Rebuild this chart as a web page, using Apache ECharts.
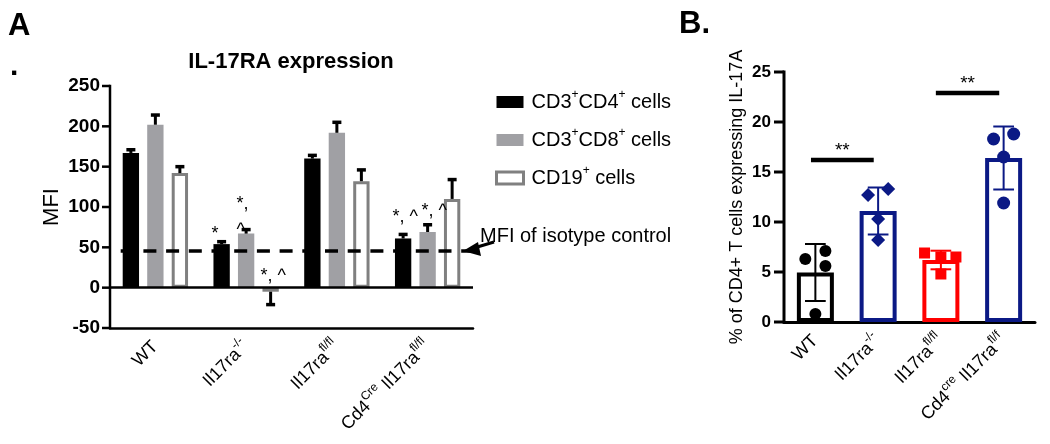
<!DOCTYPE html>
<html>
<head>
<meta charset="utf-8">
<script src="https://cdn.jsdelivr.net/npm/echarts@6/dist/echarts.min.js"></script>
<style>
html, body { margin: 0; padding: 0; background: #fff; }
#chart { width: 1050px; height: 444px; }
</style>
</head>
<body>
<div id="chart"></div>
<script>
var FONT = 'Liberation Sans, Arial, sans-serif';

// ---- panel A data (MFI) ----
var groupsA = ['WT', 'Il17ra-/-', 'Il17ra fl/fl', 'Cd4Cre Il17ra fl/fl'];
var groupLabelsA = ['WT', 'Il17ra{s|-/-}', 'Il17ra{s|fl/fl}', 'Cd4{s|Cre} Il17ra{s|fl/fl}'];
var cd4Mean = [167, 54, 160, 61];
var cd4Err = [171, 57, 164, 66];
var cd8Mean = [202, 67, 192, 69];
var cd8Err = [214, 72, 205, 78];
var cd19Mean = [142, -5, 132, 110];
var cd19Err = [150, -21, 146, 134];
var isotypeMFI = 46;
var ticksA = [-50, 0, 50, 100, 150, 200, 250];
var seriesNamesA = ['CD3+CD4+ cells', 'CD3+CD8+ cells', 'CD19+ cells'];
var legendLabelsA = ['CD3{s|+}CD4{s|+} cells', 'CD3{s|+}CD8{s|+} cells', 'CD19{s|+} cells'];

// significance marks (x in group index units, y in MFI)
var annotX = [0.618, 0.893, 1.159, 2.612, 2.932];
var annotY = [66, 87.5, 14, 87.5, 95];
var annotText = ['*', '*,\n^', '*, ^', '*, ^', '*, ^'];

// ---- panel B data (% IL-17A+) ----
var groupsB = ['WT', 'Il17ra-/-', 'Il17ra fl/fl', 'Cd4cre Il17ra fl/f'];
var groupLabelsB = ['WT', 'Il17ra{s|-/-}', 'Il17ra{s|fl/fl}', 'Cd4{s|cre} Il17ra{s|fl/f}'];
var meanB = [4.95, 11.1, 6.2, 16.4];
var sdB = [2.85, 2.35, 0.93, 3.15];
var pointsB = [
  [6.3, 7.1, 5.6, 0.8],
  [12.7, 13.3, 10.3, 8.2],
  [6.9, 6.5, 6.5, 4.8],
  [18.3, 18.8, 16.5, 11.9]
];
var jitterB = [
  [-0.16, 0.16, 0.16, 0],
  [-0.16, 0.16, 0, 0],
  [-0.26, 0, 0.24, 0],
  [-0.16, 0.16, 0, 0]
];
var colorsB = ['#000000', '#0b1985', '#ff0000', '#0b1985'];
var symbolsB = ['circle', 'diamond', 'rect', 'circle'];
var symbolSizeB = [12, 14, 11, 13];
var ticksB = [0, 5, 10, 15, 20, 25];
// bracket: from x, to x (group index units), height
var sigB = [[-0.07, 0.93, 16.2], [1.92, 2.93, 22.9]];

var BAR_W = 0.18;   // bar width, fraction of band
var BAR_STEP = 0.27; // distance between bar centres, fraction of band

var supRich = { s: { fontSize: 12, lineHeight: 26, verticalAlign: 'top', fontFamily: FONT, color: '#000' } };

// pixel point for a fractional group position on a category axis
function place(api, gxv, yv) {
  var p = api.coord([0, yv]);
  var band = api.size([1, 0])[0];
  return [p[0] + gxv * band, p[1]];
}

function errA(params, api) {
  var cat = api.value(0), slot = api.value(3);
  var band = api.size([1, 0])[0];
  var dx = (slot - 1) * band * BAR_STEP;
  var p0 = api.coord([cat, api.value(1)]);
  var p1 = api.coord([cat, api.value(2)]);
  var x = p0[0] + dx;
  var cap = 9;
  return {
    type: 'group',
    children: [
      { type: 'line', shape: { x1: x, y1: p0[1], x2: x, y2: p1[1] }, style: { stroke: '#000', lineWidth: 3 } },
      { type: 'line', shape: { x1: x - cap / 2, y1: p1[1], x2: x + cap / 2, y2: p1[1] }, style: { stroke: '#000', lineWidth: 3.5 } }
    ]
  };
}

function annotA(params, api) {
  var p = place(api, api.value(0), api.value(1));
  return {
    type: 'text', x: p[0], y: p[1],
    style: { text: annotText[params.dataIndex], fontSize: 18, fontFamily: FONT, fill: '#000',
      lineHeight: 26, align: 'left', verticalAlign: 'middle' }
  };
}

function errB(params, api) {
  var i = api.value(0), m = api.value(1), sd = api.value(2);
  var lo = api.coord([i, m - sd]), hi = api.coord([i, m + sd]);
  var band = api.size([1, 0])[0];
  var cap = band * 0.33, x = lo[0], c = colorsB[i];
  return {
    type: 'group',
    children: [
      { type: 'line', shape: { x1: x, y1: lo[1], x2: x, y2: hi[1] }, style: { stroke: c, lineWidth: 2 } },
      { type: 'line', shape: { x1: x - cap / 2, y1: lo[1], x2: x + cap / 2, y2: lo[1] }, style: { stroke: c, lineWidth: 2 } },
      { type: 'line', shape: { x1: x - cap / 2, y1: hi[1], x2: x + cap / 2, y2: hi[1] }, style: { stroke: c, lineWidth: 2 } }
    ]
  };
}

function pointB(params, api) {
  var i = api.value(0), j = api.value(2);
  var p = place(api, i + jitterB[i][j], api.value(1));
  var x = p[0], y = p[1], r = symbolSizeB[i] / 2, c = colorsB[i];
  if (symbolsB[i] === 'circle') {
    return { type: 'circle', shape: { cx: x, cy: y, r: r }, style: { fill: c } };
  }
  if (symbolsB[i] === 'rect') {
    return { type: 'rect', shape: { x: x - r, y: y - r, width: 2 * r, height: 2 * r }, style: { fill: c } };
  }
  return { type: 'polygon', shape: { points: [[x, y - r], [x + r, y], [x, y + r], [x - r, y]] }, style: { fill: c } };
}

function sigRender(params, api) {
  var p0 = place(api, api.value(0), api.value(2));
  var p1 = place(api, api.value(1), api.value(2));
  return {
    type: 'group',
    children: [
      { type: 'line', shape: { x1: p0[0], y1: p0[1], x2: p1[0], y2: p1[1] }, style: { stroke: '#000', lineWidth: 4.5 } },
      { type: 'text', x: (p0[0] + p1[0]) / 2, y: p0[1] - 9,
        style: { text: '**', fontSize: 19, fontFamily: FONT, fill: '#000', align: 'center', verticalAlign: 'middle' } }
    ]
  };
}

var errAData = [];
[cd4Mean, cd8Mean, cd19Mean].forEach(function (means, s) {
  var errs = [cd4Err, cd8Err, cd19Err][s];
  means.forEach(function (m, i) { errAData.push([i, m, errs[i], s]); });
});

var pointData = [];
pointsB.forEach(function (vals, i) {
  vals.forEach(function (v, j) { pointData.push([i, v, j]); });
});

var axisLabelBold = { color: '#000', fontSize: 19, fontWeight: 'bold', fontFamily: FONT };

var option = {
  animation: false,
  backgroundColor: '#fff',
  textStyle: { fontFamily: FONT },
  title: [
    { text: 'A', left: 8, top: 11, padding: 0, textStyle: { fontSize: 31, fontWeight: 'bold', color: '#000', fontFamily: FONT } },
    { text: '.', left: 10, top: 52, padding: 0, textStyle: { fontSize: 30, fontWeight: 'bold', color: '#000', fontFamily: FONT } },
    { text: 'IL-17RA expression', left: 291, textAlign: 'center', top: 51, padding: 0,
      textStyle: { fontSize: 22, fontWeight: 'bold', color: '#000', fontFamily: FONT } },
    { text: 'B.', left: 679, top: 9, padding: 0, textStyle: { fontSize: 31, fontWeight: 'bold', color: '#000', fontFamily: FONT } }
  ],
  legend: {
    orient: 'vertical', left: 490, top: 84, itemWidth: 27, itemHeight: 12, itemGap: 15,
    icon: 'rect', selectedMode: false,
    data: [
      { name: seriesNamesA[0] },
      { name: seriesNamesA[1] },
      { name: seriesNamesA[2], itemStyle: { color: '#fff', borderColor: '#808080', borderWidth: 3 } }
    ],
    formatter: function (name) { return legendLabelsA[seriesNamesA.indexOf(name)]; },
    textStyle: { fontSize: 20, color: '#000', fontFamily: FONT, padding: [0, 0, 0, 3], rich: supRich }
  },
  grid: [
    { left: 110, right: 577, top: 86, bottom: 116 },
    { left: 784, right: 15, top: 72, bottom: 122 }
  ],
  xAxis: [
    {
      type: 'category', gridIndex: 0, data: groupsA,
      axisLine: { onZero: false, lineStyle: { color: '#000', width: 2.5 } },
      axisTick: { alignWithLabel: true, length: 7, lineStyle: { color: '#000', width: 2.5 } },
      axisLabel: { rotate: 45, margin: 16, color: '#000', fontSize: 18, fontFamily: FONT,
        formatter: function (v, i) { return groupLabelsA[i]; }, rich: supRich },
      splitLine: { show: false }
    },
    {
      type: 'category', gridIndex: 1, data: groupsB,
      axisLine: { onZero: false, lineStyle: { color: '#000', width: 3 } },
      axisTick: { alignWithLabel: true, length: 10, lineStyle: { color: '#000', width: 3 } },
      axisLabel: { rotate: 45, margin: 16, color: '#000', fontSize: 18, fontFamily: FONT,
        formatter: function (v, i) { return groupLabelsB[i]; }, rich: supRich },
      splitLine: { show: false }
    }
  ],
  yAxis: [
    {
      type: 'value', gridIndex: 0, min: ticksA[0], max: ticksA[ticksA.length - 1], interval: 50,
      name: 'MFI', nameLocation: 'middle', nameGap: 47,
      nameTextStyle: { color: '#000', fontSize: 22, fontFamily: FONT },
      axisLine: { show: false },
      axisTick: { show: false },
      axisLabel: Object.assign({ margin: 10 }, axisLabelBold),
      splitLine: { show: false }
    },
    {
      type: 'value', gridIndex: 1, min: ticksB[0], max: ticksB[ticksB.length - 1], interval: 5,
      name: '% of CD4+ T cells expressing IL-17A', nameLocation: 'middle', nameGap: 38,
      nameTextStyle: { color: '#000', fontSize: 18, fontFamily: FONT },
      axisLine: { show: false },
      axisTick: { show: false },
      axisLabel: Object.assign({ margin: 13 }, axisLabelBold, { fontSize: 17 }),
      splitLine: { show: false }
    }
  ],
  series: [
    {
      name: seriesNamesA[0], type: 'bar', xAxisIndex: 0, yAxisIndex: 0,
      data: cd4Mean, barWidth: (BAR_W * 100) + '%', barGap: '50%',
      itemStyle: { color: '#000' }
    },
    {
      name: seriesNamesA[1], type: 'bar', xAxisIndex: 0, yAxisIndex: 0,
      data: cd8Mean, barWidth: (BAR_W * 100) + '%', barGap: '50%',
      itemStyle: { color: '#a0a0a4' }
    },
    {
      name: seriesNamesA[2], type: 'bar', xAxisIndex: 0, yAxisIndex: 0,
      data: cd19Mean, barWidth: (BAR_W * 100) + '%', barGap: '50%',
      itemStyle: { color: '#fff', borderColor: '#808080', borderWidth: 3 },
      markLine: {
        silent: true, symbol: 'none', label: { show: false }, z: 10,
        data: [
          { yAxis: 0, lineStyle: { type: 'solid', color: '#000', width: 2.5 } },
          { yAxis: isotypeMFI, lineStyle: { type: [13, 9.7], dashOffset: 12, color: '#000', width: 3.5 } }
        ]
      }
    },
    {
      type: 'custom', xAxisIndex: 0, yAxisIndex: 0, renderItem: errA, data: errAData, z: 3, clip: false
    },
    {
      type: 'custom', xAxisIndex: 0, yAxisIndex: 0, renderItem: annotA, z: 4, clip: false,
      data: annotX.map(function (x, i) { return [x, annotY[i]]; })
    },
    {
      type: 'bar', xAxisIndex: 1, yAxisIndex: 1, barWidth: 37,
      data: meanB.map(function (m, i) {
        return { value: m, itemStyle: { color: '#fff', borderColor: colorsB[i], borderWidth: 4 } };
      })
    },
    {
      type: 'custom', xAxisIndex: 1, yAxisIndex: 1, renderItem: errB, z: 4, clip: false,
      data: meanB.map(function (m, i) { return [i, m, sdB[i]]; })
    },
    {
      type: 'custom', xAxisIndex: 1, yAxisIndex: 1, renderItem: pointB, z: 5, clip: false, data: pointData
    },
    {
      type: 'custom', xAxisIndex: 1, yAxisIndex: 1, renderItem: sigRender, z: 5, clip: false, data: sigB
    }
  ]
};

var chart = echarts.init(document.getElementById('chart'));
chart.setOption(option);

// y axis lines and outward ticks, placed from the axes' own scales, on top of everything
function yAxisGraphics(gridIdx, ticks, len, width) {
  var finder = { xAxisIndex: gridIdx, yAxisIndex: gridIdx };
  var c0 = chart.convertToPixel(finder, [0, ticks[0]]);
  var c1 = chart.convertToPixel(finder, [1, ticks[0]]);
  var x = c0[0] - (c1[0] - c0[0]) / 2;
  var yTop = chart.convertToPixel(finder, [0, ticks[ticks.length - 1]])[1];
  var els = [{
    type: 'line', z: 100,
    shape: { x1: x, y1: c0[1] + width / 2, x2: x, y2: yTop - width / 2 },
    style: { stroke: '#000', lineWidth: width }
  }];
  ticks.forEach(function (v) {
    var y = chart.convertToPixel(finder, [0, v])[1];
    els.push({ type: 'line', z: 100, shape: { x1: x - len, y1: y, x2: x, y2: y }, style: { stroke: '#000', lineWidth: width } });
  });
  return els;
}

var overlay = [
  { type: 'text', left: 480, top: 226, z: 100,
    style: { text: 'MFI of isotype control', fontSize: 20, fontFamily: FONT, fill: '#000' } },
  { type: 'line', z: 100, shape: { x1: 494, y1: 242, x2: 474, y2: 248 }, style: { stroke: '#000', lineWidth: 3 } },
  { type: 'polygon', z: 100, shape: { points: [[463, 251], [478, 242], [481, 256]] }, style: { fill: '#000' } }
].concat(yAxisGraphics(0, ticksA, 8, 2.5), yAxisGraphics(1, ticksB, 10, 3));

chart.setOption({ graphic: overlay });
</script>
</body>
</html>
